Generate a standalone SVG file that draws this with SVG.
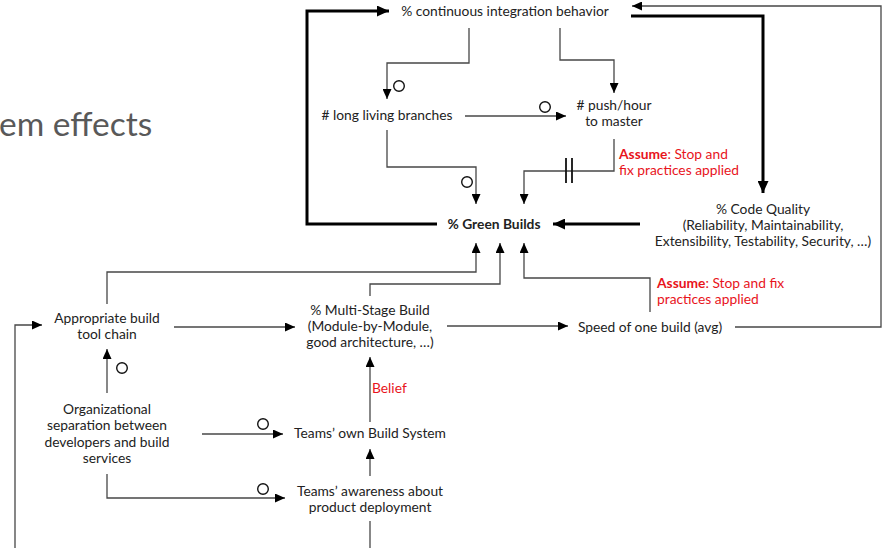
<svg xmlns="http://www.w3.org/2000/svg" width="889" height="548" viewBox="0 0 889 548">
<defs>
<style>
text{font-family:Lato,"Noto Sans","Liberation Sans",sans-serif;font-size:13.8px;fill:#222}
.c{text-anchor:middle}
.b{font-weight:bold}
.r{fill:#e8141c}
.thin{fill:none;stroke:#474747;stroke-width:1.3}
.thick{fill:none;stroke:#000;stroke-width:3}
.pol{fill:none;stroke:#111;stroke-width:1.4}
.title{font-size:33.5px;fill:#595959}
</style>
<marker id="a" markerUnits="userSpaceOnUse" markerWidth="10" markerHeight="9" refX="10" refY="4.5" orient="auto">
<path d="M0,0 L10,4.5 L0,9 z" fill="#000"/>
</marker>
<marker id="A" markerUnits="userSpaceOnUse" markerWidth="12" markerHeight="11" refX="12" refY="5.5" orient="auto">
<path d="M0,0 L12,5.5 L0,11 z" fill="#000"/>
</marker>
</defs>
<rect width="889" height="548" fill="#fff"/>
<text class="title" x="-1" y="136">em effects</text>

<g id="connectors">
<path class="thick" d="M437,224 H307 V11 H389" marker-end="url(#A)"/>
<path class="thick" d="M631,16 H763 V193" marker-end="url(#A)"/>
<path class="thick" d="M640,224 H553" marker-end="url(#A)"/>
<path class="thin" d="M469,28 V63 H387 V99" marker-end="url(#a)"/>
<path class="thin" d="M560,28 V60 H614 V93" marker-end="url(#a)"/>
<path class="thin" d="M465,116 H566" marker-end="url(#a)"/>
<path class="thin" d="M735,327 H881 V6 H632" marker-end="url(#a)"/>
<path class="thin" d="M387,130 V167 H476 V204" marker-end="url(#a)"/>
<path class="thin" d="M614,139 V171 H524 V204" marker-end="url(#a)"/>
<path class="thin" d="M566,158 V183 M572,158 V183" style="stroke:#111;stroke-width:1.8"/>
<path class="thin" d="M107,304 V272 H476 V243" marker-end="url(#a)"/>
<path class="thin" d="M370,296 V284 H500 V243" marker-end="url(#a)"/>
<path class="thin" d="M650,312 V278 H524 V243" marker-end="url(#a)"/>
<path class="thin" d="M174,327 H295" marker-end="url(#a)"/>
<path class="thin" d="M447,326 H568" marker-end="url(#a)"/>
<path class="thin" d="M107,393 V349" marker-end="url(#a)"/>
<path class="thin" d="M370,422 V357" marker-end="url(#a)"/>
<path class="thin" d="M202,434 H283" marker-end="url(#a)"/>
<path class="thin" d="M107,474 V498 H285" marker-end="url(#a)"/>
<path class="thin" d="M370,476 V449" marker-end="url(#a)"/>
<path class="thin" d="M370,521 V548"/>
<path class="thin" d="M15,548 V325 H42" marker-end="url(#a)"/>
<circle class="pol" cx="399" cy="86" r="5.3"/>
<circle class="pol" cx="545" cy="107" r="5.3"/>
<circle class="pol" cx="467" cy="182" r="5.3"/>
<circle class="pol" cx="122" cy="368" r="5.3"/>
<circle class="pol" cx="263" cy="424" r="5.3"/>
<circle class="pol" cx="263" cy="489" r="5.3"/>
<text class="r" x="372" y="393">Belief</text>
<text class="r" x="619" y="159"><tspan class="b">Assume</tspan>: Stop and</text>
<text class="r" x="619" y="175">fix practices applied</text>
<text class="r" x="657" y="288"><tspan class="b">Assume</tspan>: Stop and fix</text>
<text class="r" x="657" y="304">practices applied</text>
</g>

<g id="ci"><text class="c" x="505" y="16">% continuous integration behavior</text></g>
<g id="llb"><text class="c" x="387" y="120"># long living branches</text></g>
<g id="push"><text class="c" x="614" y="110"># push/hour</text><text class="c" x="614" y="126">to master</text></g>
<g id="green"><text class="c b" x="494" y="229">% Green Builds</text></g>
<g id="quality">
<text class="c" x="763" y="214">% Code Quality</text>
<text class="c" x="763" y="230">(Reliability, Maintainability,</text>
<text class="c" x="763" y="246">Extensibility, Testability, Security, …)</text>
</g>
<g id="speed"><text class="c" x="650" y="332">Speed of one build (avg)</text></g>
<g id="multi">
<text class="c" x="370" y="315">% Multi-Stage Build</text>
<text class="c" x="370" y="331">(Module-by-Module,</text>
<text class="c" x="370" y="347">good architecture, …)</text>
</g>
<g id="toolchain"><text class="c" x="107" y="323">Appropriate build</text><text class="c" x="107" y="339">tool chain</text></g>
<g id="org">
<text class="c" x="107" y="414">Organizational</text>
<text class="c" x="107" y="430">separation between</text>
<text class="c" x="107" y="447">developers and build</text>
<text class="c" x="107" y="463">services</text>
</g>
<g id="ownbuild"><text class="c" x="370" y="438">Teams’ own Build System</text></g>
<g id="awareness"><text class="c" x="370" y="496">Teams’ awareness about</text><text class="c" x="370" y="512">product deployment</text></g>
</svg>
